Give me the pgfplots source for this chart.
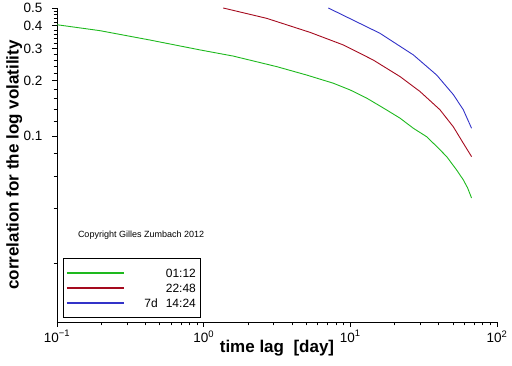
\documentclass[border=0pt]{standalone}
\usepackage{pgfplots}
\pgfplotsset{compat=1.18}
\usepackage{fontspec}
\setmainfont{Liberation Sans}
\definecolor{cgreen}{RGB}{30,185,30}
\definecolor{cred}{RGB}{165,10,30}
\definecolor{cblue}{RGB}{50,50,200}
\pgfplotsset{
  mylegimg/.style={legend image code/.code={\draw[##1, line width=1.8pt] (0pt,0pt) -- (57pt,0pt);}},
}
\begin{document}
\begin{tikzpicture}
\begin{axis}[
 at={(0,0)}, anchor=south west,
 scale only axis, width=440pt, height=314pt,
 xmode=log, ymode=log,
 xmin=0.1, xmax=100, ymin=0.0096, ymax=0.5,
 axis x line*=bottom, axis y line*=left,
 axis line style={line width=0.8pt, -},
 tick align=outside,
 major tick length=5pt, minor tick length=3.5pt,
 every tick/.style={black, line width=0.6pt},
 xtick={0.1,1,10,100},
 xticklabels={10\textsuperscript{−1},10\textsuperscript{0},10\textsuperscript{1},10\textsuperscript{2}},
 minor xtick={0.2,0.3,0.4,0.5,0.6,0.7,0.8,0.9,2,3,4,5,6,7,8,9,20,30,40,50,60,70,80,90},
 ytick={0.1,0.2,0.3,0.4,0.5},
 yticklabels={0.1,0.2,0.3,0.4,0.5},
 minor ytick={0.02,0.04,0.06,0.08,0.12,0.14,0.16,0.18,0.22,0.24,0.26,0.28,0.32,0.34,0.36,0.38,0.42,0.44,0.46,0.48},
 tick label style={font=\fontsize{13.5}{14}\selectfont},
 yticklabel style={xshift=-6pt},
 xlabel={time lag\ \ [day]},
 ylabel={correlation for the log volatility},
 xlabel style={at={(axis description cs:0.5,-0.0987)}, anchor=base, font=\bfseries\fontsize{17}{17}\selectfont},
 ylabel style={at={(axis description cs:-0.0875,0.5)}, anchor=base, font=\bfseries\fontsize{17}{17}\selectfont},
 legend style={at={(axis description cs:0.0129,0.0127)}, anchor=south west, draw=black, line width=0.8pt,
   font=\fontsize{12}{14}\selectfont, inner xsep=3pt, inner ysep=7pt, row sep=0pt,
   cells={text width=69pt, align=right, inner xsep=0pt, inner ysep=2pt, text height=9.5pt, text depth=2pt}},
 legend cell align=right,
 mylegimg,
 clip=true,
]
\addplot[color=cgreen, line width=0.9pt] coordinates {
(0.1,0.405) (0.196,0.376) (0.431,0.334) (0.944,0.295) (1.59,0.273) (3.15,0.239)
(5.04,0.215) (7.66,0.194) (10,0.178) (12.9,0.161) (16.8,0.142) (21.8,0.125)
(26.9,0.110) (33.1,0.099) (38.8,0.0875) (45.4,0.077) (53.1,0.065) (58.9,0.0575)
(63,0.052) (67.1,0.0457)};
\addlegendentry{01:12}
\addplot[color=cred, line width=0.9pt] coordinates {
(1.36,0.50) (2.69,0.439) (5.31,0.368) (8.96,0.314) (14.3,0.260) (21.8,0.211)
(29.8,0.175) (40.8,0.139) (50.4,0.112) (58.9,0.0912) (67.1,0.077)};
\addlegendentry{22:48}
\addplot[color=cblue, line width=0.9pt] coordinates {
(7.08,0.50) (15.9,0.364) (26.9,0.277) (38.8,0.215) (50.4,0.168) (58.9,0.139) (67.1,0.110)};
\addlegendentry{7d\ \ 14:24}
\node[font=\fontsize{9}{9}\selectfont, anchor=center] at (axis description cs:0.191,0.277) {Copyright Gilles Zumbach 2012};
\end{axis}
\pgfresetboundingbox
\path[use as bounding box] (-57pt,-44pt) rectangle (455pt,322pt);
\end{tikzpicture}
\end{document}
